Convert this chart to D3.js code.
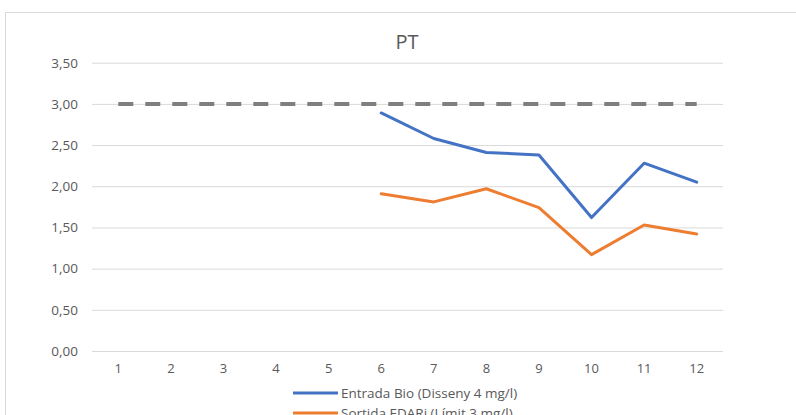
<!DOCTYPE html>
<html>
<head>
<meta charset="utf-8">
<script src="https://cdn.jsdelivr.net/npm/d3@7"></script>
<style>
  html, body { margin: 0; padding: 0; background: #fff; }
  svg { display: block; font-family: "Open Sans", Lato, sans-serif; }
</style>
</head>
<body>
<svg id="chart" width="796" height="415"></svg>
<script>
// Months on the x axis
const categories = ["1", "2", "3", "4", "5", "6", "7", "8", "9", "10", "11", "12"];
// Total phosphorus, mg/l (null = no measurement)
const entradaBio = [null, null, null, null, null, 2.89, 2.58, 2.41, 2.38, 1.62, 2.28, 2.05];
const sortidaEdari = [null, null, null, null, null, 1.91, 1.81, 1.97, 1.74, 1.17, 1.53, 1.42];
// Discharge limit reference line
const limit = [3, 3, 3, 3, 3, 3, 3, 3, 3, 3, 3, 3];
const yTicks = [0, 0.5, 1, 1.5, 2, 2.5, 3, 3.5];
const seriesNames = ["Entrada Bio (Disseny 4 mg/l)", "Sortida EDARi (Límit 3 mg/l)"];

const svg = d3.select("#chart");
const plot = { left: 92, right: 723, top: 62.7, bottom: 351 };

// Outer chart frame
svg.append("rect")
  .attr("x", 5.5).attr("y", 12.5)
  .attr("width", 810).attr("height", 420)
  .attr("fill", "none").attr("stroke", "#d9d9d9").attr("stroke-width", 1);

const x = d3.scaleBand().domain(categories).range([plot.left, plot.right]);
const y = d3.scaleLinear().domain([0, 3.5]).range([plot.bottom, plot.top]);
const cx = d => x(d) + x.bandwidth() / 2;

// Horizontal gridlines + y labels
const yAxis = d3.axisLeft(y).tickValues(yTicks)
  .tickSize(-(plot.right - plot.left)).tickPadding(14)
  .tickFormat(d => d3.format(".2f")(d).replace(".", ","));
const gy = svg.append("g").attr("transform", `translate(${plot.left},0)`).call(yAxis);
gy.select(".domain").remove();
gy.selectAll(".tick line").attr("stroke", "#d9d9d9").attr("stroke-width", 1);
gy.selectAll(".tick text").attr("fill", "#595959").attr("font-size", 13.5)
  .attr("font-family", "'Open Sans', sans-serif");

// X labels
const xAxis = d3.axisBottom(x).tickSize(0).tickPadding(13);
const gx = svg.append("g").attr("transform", `translate(0,${plot.bottom})`).call(xAxis);
gx.select(".domain").remove();
gx.selectAll(".tick text").attr("fill", "#595959").attr("font-size", 13)
  .attr("font-family", "'Open Sans', sans-serif");

// Title
svg.append("text").attr("x", 407).attr("y", 48.5).attr("text-anchor", "middle")
  .attr("fill", "#595959").attr("font-size", 20).text("PT");

const line = d3.line().defined(d => d[1] != null).x(d => cx(d[0])).y(d => y(d[1]));
const pairs = arr => categories.map((c, i) => [c, arr[i]]);

svg.append("path").datum(pairs(limit)).attr("d", line)
  .attr("fill", "none").attr("stroke", "#7f7f7f").attr("stroke-width", 4)
  .attr("stroke-dasharray", "15,12");

svg.append("path").datum(pairs(entradaBio)).attr("d", line)
  .attr("fill", "none").attr("stroke", "#4472c4").attr("stroke-width", 3)
  .attr("stroke-linejoin", "round").attr("stroke-linecap", "round");

svg.append("path").datum(pairs(sortidaEdari)).attr("d", line)
  .attr("fill", "none").attr("stroke", "#ed7d31").attr("stroke-width", 3)
  .attr("stroke-linejoin", "round").attr("stroke-linecap", "round");

// Legend
const legendColors = ["#4472c4", "#ed7d31"];
const lg = svg.append("g");
seriesNames.forEach((name, i) => {
  const yy = 393 + i * 20;
  lg.append("line").attr("x1", 293).attr("x2", 338).attr("y1", yy).attr("y2", yy)
    .attr("stroke", legendColors[i]).attr("stroke-width", 3);
  lg.append("text").attr("x", 341).attr("y", yy + 5)
    .attr("fill", "#595959").attr("font-size", 13.5).text(name);
});
</script>
</body>
</html>
